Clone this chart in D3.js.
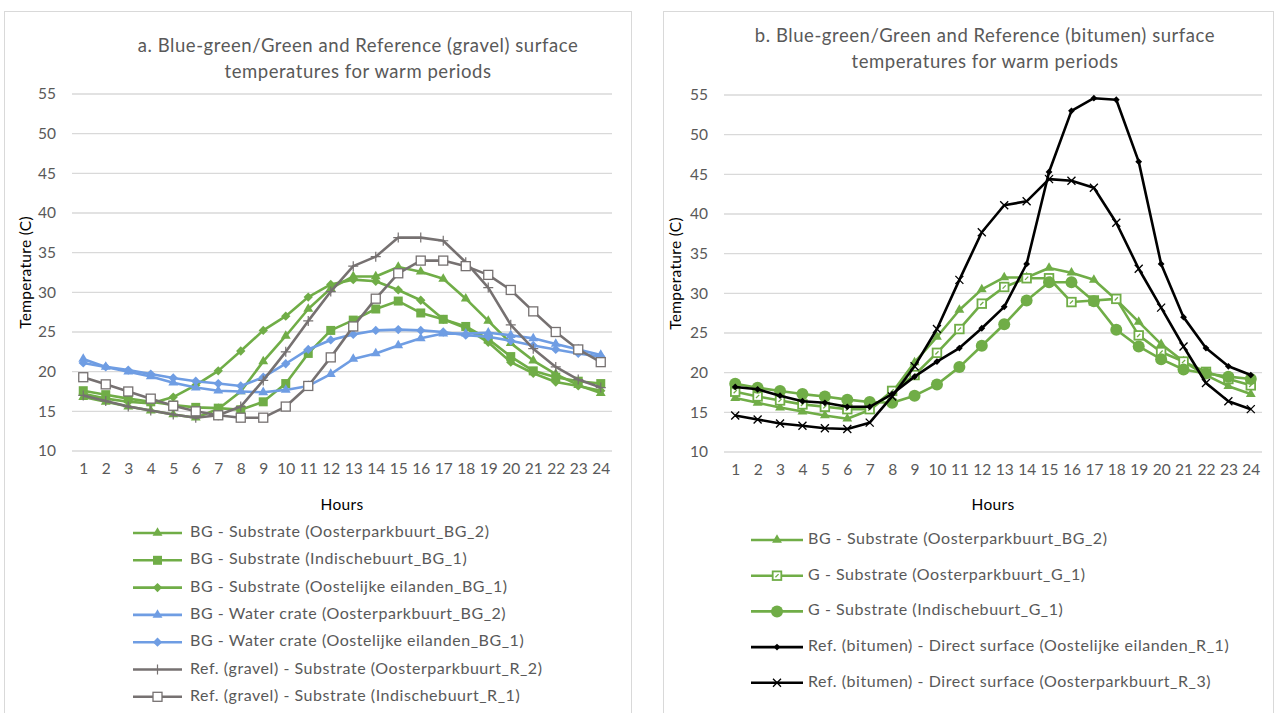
<!DOCTYPE html>
<html>
<head>
<meta charset="utf-8">
<script src="https://cdn.jsdelivr.net/npm/d3@7"></script>
<style>
  body { margin: 0; background: #fff; }
  text { font-family: Lato, "Open Sans", sans-serif; }
</style>
</head>
<body>
<div id="chart"></div>
<script>
// categories and tick labels
const hours = [1, 2, 3, 4, 5, 6, 7, 8, 9, 10, 11, 12, 13, 14, 15, 16, 17, 18, 19, 20, 21, 22, 23, 24];
const tempTicks = [10, 15, 20, 25, 30, 35, 40, 45, 50, 55];

// series values (deg C)
const bgSubOosterpark = [16.8, 16.2, 15.6, 15.1, 14.6, 14.2, 15.3, 17.5, 21.3, 24.5, 27.9, 30.5, 32.0, 32.0, 33.2, 32.6, 31.7, 29.2, 26.4, 23.6, 21.4, 19.7, 18.3, 17.3];
const bgSubIndische = [17.6, 17.1, 16.6, 16.2, 15.8, 15.5, 15.4, 15.2, 16.2, 18.5, 22.3, 25.2, 26.5, 27.9, 28.9, 27.4, 26.6, 25.7, 24.1, 21.9, 20.1, 19.3, 18.8, 18.5];
const bgSubOostelijke = [17.2, 16.6, 16.2, 16.0, 16.8, 18.3, 20.1, 22.6, 25.2, 27.0, 29.4, 31.0, 31.6, 31.4, 30.3, 29.0, 26.6, 25.5, 23.7, 21.2, 19.8, 18.7, 18.2, 17.6];
const bgWaterOosterpark = [21.6, 20.6, 20.0, 19.4, 18.6, 18.0, 17.6, 17.5, 17.4, 17.7, 18.2, 19.7, 21.6, 22.3, 23.3, 24.2, 24.8, 24.8, 24.9, 24.6, 24.2, 23.5, 22.8, 22.1];
const bgWaterOostelijke = [21.1, 20.6, 20.2, 19.7, 19.2, 18.8, 18.5, 18.2, 19.3, 21.0, 22.8, 24.0, 24.7, 25.2, 25.3, 25.2, 25.0, 24.6, 24.4, 23.9, 23.3, 22.8, 22.3, 21.9];
const refGravelOosterpark = [17.0, 16.3, 15.6, 15.1, 14.6, 14.2, 14.5, 15.6, 18.9, 22.5, 26.4, 30.1, 33.3, 34.5, 36.9, 36.9, 36.5, 33.8, 30.6, 25.9, 22.9, 20.6, 19.0, 18.0];
const refGravelIndische = [19.3, 18.4, 17.5, 16.6, 15.7, 15.0, 14.5, 14.2, 14.2, 15.6, 18.2, 21.8, 25.7, 29.2, 32.4, 34.0, 34.0, 33.3, 32.2, 30.3, 27.6, 25.0, 22.8, 21.2];

const gSubOosterpark = [17.6, 17.0, 16.5, 16.0, 15.7, 15.4, 15.4, 17.7, 19.7, 22.5, 25.5, 28.7, 30.8, 31.9, 31.9, 28.9, 29.1, 29.3, 24.7, 22.6, 21.4, 20.1, 19.2, 18.4];
const gSubIndische = [18.6, 18.1, 17.7, 17.3, 17.0, 16.6, 16.3, 16.2, 17.1, 18.5, 20.7, 23.4, 26.1, 29.1, 31.4, 31.4, 29.0, 25.4, 23.3, 21.7, 20.4, 19.9, 19.5, 19.2];
const refBitumenOostelijke = [18.2, 17.9, 17.1, 16.4, 16.2, 15.7, 15.7, 17.3, 19.5, 21.4, 23.1, 25.6, 28.3, 33.7, 45.3, 53.0, 54.6, 54.4, 46.6, 33.7, 27.0, 23.1, 20.8, 19.7];
const refBitumenOosterpark = [14.6, 14.1, 13.6, 13.3, 13.0, 12.9, 13.7, 17.0, 20.8, 25.5, 31.7, 37.7, 41.1, 41.6, 44.4, 44.2, 43.3, 38.9, 33.1, 28.2, 23.3, 18.7, 16.4, 15.4];

const GREEN = "#70ad47", BLUE = "#6f9de3", GREY = "#767171", BLACK = "#000000";
const TXT = "#595959";

const panels = [
  {
    box: [4.5, 11.5, 627, 710],
    titleX: 358, titleY: [47, 73],
    title: ["a. Blue-green/Green and Reference (gravel) surface", "temperatures for warm periods"],
    plot: { left: 72, right: 612, top: 94, bottom: 451 },
    yTitleX: 27,
    legend: { x0: 133, x1: 182, tx: 190, y0: 533, dy: 27.3 },
    series: [
      { name: "BG - Substrate (Oosterparkbuurt_BG_2)", values: bgSubOosterpark, color: GREEN, marker: "triangle" },
      { name: "BG - Substrate (Indischebuurt_BG_1)", values: bgSubIndische, color: GREEN, marker: "square" },
      { name: "BG - Substrate (Oostelijke eilanden_BG_1)", values: bgSubOostelijke, color: GREEN, marker: "diamond" },
      { name: "BG - Water crate (Oosterparkbuurt_BG_2)", values: bgWaterOosterpark, color: BLUE, marker: "triangle" },
      { name: "BG - Water crate (Oostelijke eilanden_BG_1)", values: bgWaterOostelijke, color: BLUE, marker: "diamond" },
      { name: "Ref. (gravel) - Substrate (Oosterparkbuurt_R_2)", values: refGravelOosterpark, color: GREY, marker: "plus" },
      { name: "Ref. (gravel) - Substrate (Indischebuurt_R_1)", values: refGravelIndische, color: GREY, marker: "openSquare" }
    ]
  },
  {
    box: [663.5, 11.5, 610, 710],
    titleX: 985, titleY: [37, 63],
    title: ["b. Blue-green/Green and Reference (bitumen) surface", "temperatures for warm periods"],
    plot: { left: 724, right: 1262, top: 95, bottom: 452 },
    yTitleX: 677,
    legend: { x0: 751, x1: 803, tx: 808, y0: 540, dy: 35.7 },
    series: [
      { name: "BG - Substrate (Oosterparkbuurt_BG_2)", values: bgSubOosterpark, color: GREEN, marker: "triangle" },
      { name: "G - Substrate (Oosterparkbuurt_G_1)", values: gSubOosterpark, color: GREEN, marker: "dotSquare" },
      { name: "G - Substrate (Indischebuurt_G_1)", values: gSubIndische, color: GREEN, marker: "circle" },
      { name: "Ref. (bitumen) - Direct surface (Oostelijke eilanden_R_1)", values: refBitumenOostelijke, color: BLACK, marker: "smallDiamond" },
      { name: "Ref. (bitumen) - Direct surface (Oosterparkbuurt_R_3)", values: refBitumenOosterpark, color: BLACK, marker: "cross" }
    ]
  }
];

let addMarker = function (g, type, color) {
  if (type === "triangle") {
    g.append("path").attr("d", d3.symbol(d3.symbolTriangle, 42)()).attr("fill", color);
  } else if (type === "square") {
    g.append("rect").attr("x", -4.5).attr("y", -4.5).attr("width", 9).attr("height", 9).attr("fill", color);
  } else if (type === "diamond") {
    g.append("rect").attr("x", -3.3).attr("y", -3.3).attr("width", 6.6).attr("height", 6.6)
      .attr("transform", "rotate(45)").attr("fill", color);
  } else if (type === "smallDiamond") {
    g.append("rect").attr("x", -2.4).attr("y", -2.4).attr("width", 4.8).attr("height", 4.8)
      .attr("transform", "rotate(45)").attr("fill", color);
  } else if (type === "plus") {
    g.append("path").attr("d", "M0,-5V5M-5,0H5").attr("stroke", color).attr("stroke-width", 1.2).attr("fill", "none");
  } else if (type === "openSquare") {
    g.append("rect").attr("x", -4.5).attr("y", -4.5).attr("width", 9).attr("height", 9)
      .attr("fill", "#fff").attr("stroke", color).attr("stroke-width", 1.3);
  } else if (type === "dotSquare") {
    g.append("rect").attr("x", -4.3).attr("y", -4.3).attr("width", 8.6).attr("height", 8.6)
      .attr("fill", "#fff").attr("stroke", color).attr("stroke-width", 1.8);
    g.append("path").attr("d", "M-1.6,1.6L1.6,-1.6").attr("stroke", color).attr("stroke-width", 1.3);
  } else if (type === "circle") {
    g.append("circle").attr("r", 6).attr("fill", color);
  } else if (type === "cross") {
    g.append("path").attr("d", "M-4,-4L4,4M-4,4L4,-4").attr("stroke", color).attr("stroke-width", 1.3).attr("fill", "none");
  }
};

const svg = d3.select("#chart").append("svg")
  .attr("width", 1277).attr("height", 713);

panels.forEach(function (p) {
  const root = svg.append("g");
  root.append("rect")
    .attr("x", p.box[0]).attr("y", p.box[1]).attr("width", p.box[2]).attr("height", p.box[3])
    .attr("fill", "#fff").attr("stroke", "#d9d9d9");

  // title
  root.selectAll("text.title").data(p.title).join("text")
    .attr("class", "title")
    .attr("x", p.titleX).attr("y", (d, i) => p.titleY[i])
    .attr("text-anchor", "middle").attr("dominant-baseline", "middle")
    .attr("font-size", "18.5px").attr("letter-spacing", "0.55px").attr("fill", TXT)
    .text(d => d);

  const x = d3.scalePoint().domain(hours).range([p.plot.left, p.plot.right]).padding(0.5);
  const y = d3.scaleLinear().domain([10, 55]).range([p.plot.bottom, p.plot.top]);

  // gridlines
  root.append("g").selectAll("line").data(tempTicks).join("line")
    .attr("x1", p.plot.left).attr("x2", p.plot.right)
    .attr("y1", d => y(d)).attr("y2", d => y(d))
    .attr("stroke", "#d9d9d9").attr("stroke-width", 1.3);

  // axes
  const yAxis = root.append("g")
    .attr("transform", `translate(${p.plot.left - 2},0)`)
    .call(d3.axisLeft(y).tickValues(tempTicks).tickSize(0).tickPadding(14));
  const xAxis = root.append("g")
    .attr("transform", `translate(0,${p.plot.bottom + 8})`)
    .call(d3.axisBottom(x).tickSize(0).tickPadding(4));
  [yAxis, xAxis].forEach(function (a) {
    a.select(".domain").remove();
    a.selectAll("text").attr("font-size", "15.5px").attr("fill", TXT)
      .attr("font-family", "Lato, 'Open Sans', sans-serif");
  });

  root.append("text")
    .attr("transform", `translate(${p.yTitleX},${(p.plot.top + p.plot.bottom) / 2}) rotate(-90)`)
    .attr("text-anchor", "middle").attr("dominant-baseline", "middle")
    .attr("font-size", "15.5px").attr("letter-spacing", "0.3px").attr("fill", "#000")
    .text("Temperature (C)");
  root.append("text")
    .attr("x", (p.plot.left + p.plot.right) / 2).attr("y", 506)
    .attr("text-anchor", "middle").attr("dominant-baseline", "middle")
    .attr("font-size", "15.5px").attr("letter-spacing", "0.3px").attr("fill", "#000")
    .text("Hours");

  // series
  const line = d3.line().x((d, i) => x(hours[i])).y(d => y(d));
  p.series.forEach(function (s) {
    const g = root.append("g");
    g.append("path").attr("d", line(s.values))
      .attr("fill", "none").attr("stroke", s.color).attr("stroke-width", 2.6)
      .attr("stroke-linejoin", "round");
    s.values.forEach(function (v, i) {
      const m = g.append("g").attr("transform", `translate(${x(hours[i])},${y(v)})`);
      addMarker(m, s.marker, s.color);
    });
  });

  // legend
  const lg = root.append("g");
  p.series.forEach(function (s, i) {
    const ly = p.legend.y0 + i * p.legend.dy;
    lg.append("line")
      .attr("x1", p.legend.x0).attr("x2", p.legend.x1).attr("y1", ly).attr("y2", ly)
      .attr("stroke", s.color).attr("stroke-width", 2.6);
    const m = lg.append("g").attr("transform", `translate(${(p.legend.x0 + p.legend.x1) / 2},${ly})`);
    addMarker(m, s.marker, s.color);
    lg.append("text")
      .attr("x", p.legend.tx).attr("y", ly)
      .attr("dominant-baseline", "middle")
      .attr("font-size", "16px").attr("letter-spacing", "0.55px").attr("fill", TXT)
      .text(s.name);
  });
});
</script>
</body>
</html>
